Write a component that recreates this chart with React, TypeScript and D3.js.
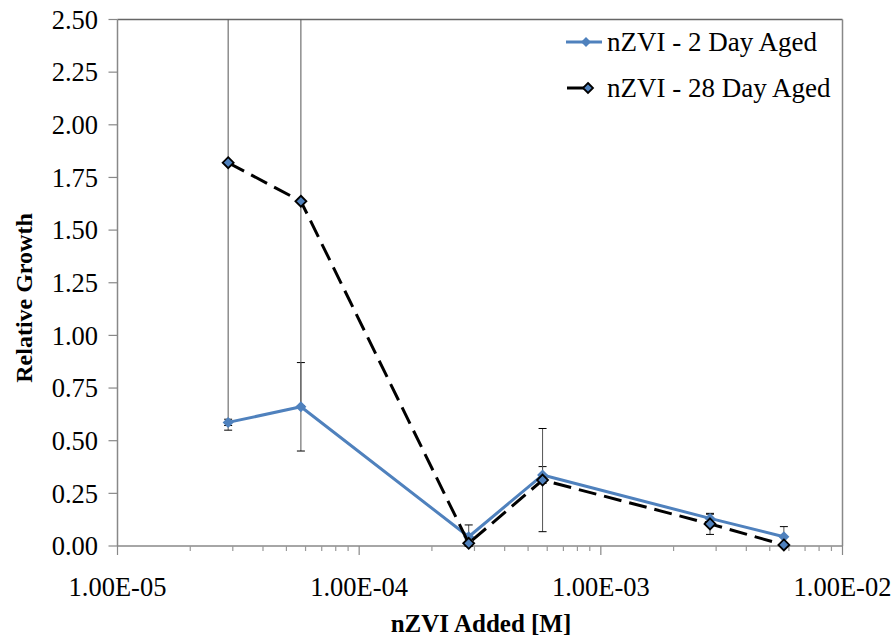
import React from "react";
import * as d3 from "d3";

const concentrations = [2.87e-5, 5.74e-5, 2.84e-4, 5.74e-4, 2.83e-3, 5.72e-3];
const aged2 = [0.587, 0.661, 0.044, 0.337, 0.131, 0.044];
const aged2Err = [0.015, 0.21, 0.056, 0.04, 0.02, 0.048];
const aged28 = [1.82, 1.637, 0.013, 0.313, 0.105, 0.005];
const aged28Err = [1.27, 0.97, 0.02, 0.245, 0.05, 0.005];
const yTicks = [0, 0.25, 0.5, 0.75, 1.0, 1.25, 1.5, 1.75, 2.0, 2.25, 2.5];
const xMajor = [1e-5, 1e-4, 1e-3, 1e-2];
const seriesNames = ["nZVI - 2 Day Aged", "nZVI - 28 Day Aged"];

const W = 896, H = 640;
const L = 117.5, R = 842.5, T = 19.5, B = 546;
const FONT = "'Liberation Serif', 'Times New Roman', 'DejaVu Serif', serif";
const BLUE = "#4F81BD";

function fmtExp(v: number) {
  const e = Math.round(Math.log10(v));
  const sign = e < 0 ? "-" : "+";
  const a = Math.abs(e);
  return `1.00E${sign}${a < 10 ? "0" + a : a}`;
}

function diamond(cx: number, cy: number, r: number) {
  return `M${cx},${cy - r}L${cx + r},${cy}L${cx},${cy + r}L${cx - r},${cy}Z`;
}

const txt: React.CSSProperties = { fontFamily: FONT };

export default function App() {
  const x = d3.scaleLog().domain([1e-5, 1e-2]).range([L, R]);
  const y = d3.scaleLinear().domain([0, 2.5]).range([B, T]);
  const minor: number[] = [];
  for (let e = -5; e < -2; e++) {
    for (let m = 2; m <= 9; m++) minor.push(m * Math.pow(10, e));
  }
  const line = d3
    .line<number>()
    .x((_, i) => x(concentrations[i]))
    .y((d) => y(d));

  const errBar = (vals: number[], errs: number[], key: string) =>
    vals.map((v, i) => {
      const cx = x(concentrations[i]);
      const hi = v + errs[i];
      const lo = Math.max(v - errs[i], 0);
      const yHi = Math.max(y(hi), T);
      const yLo = y(lo);
      return (
        <g key={key + i}>
          <line x1={cx} x2={cx} y1={yHi} y2={yLo} stroke="#555" strokeWidth={1} />
          {hi <= 2.5 && <line x1={cx - 4} x2={cx + 4} y1={y(hi)} y2={y(hi)} stroke="#000" strokeWidth={1} />}
          <line x1={cx - 4} x2={cx + 4} y1={yLo} y2={yLo} stroke="#000" strokeWidth={1} />
        </g>
      );
    });

  return (
    <svg
      width={W}
      height={H}
      style={{ position: "absolute", left: 0, top: 0, background: "#fff", fontFamily: FONT }}
    >
      <rect x={0} y={0} width={W} height={H} fill="#fff" />
      <line x1={L} x2={R} y1={T} y2={T} stroke="#666" strokeWidth={1.5} />
      <line x1={R} x2={R} y1={T} y2={B} stroke="#888" strokeWidth={1.5} />
      <line x1={L} x2={L} y1={T} y2={B} stroke="#888" strokeWidth={1.5} />
      {yTicks.map((t) => (
        <g key={"yt" + t}>
          <line x1={L - 9} x2={L} y1={y(t)} y2={y(t)} stroke="#888" strokeWidth={1.2} />
          <text style={txt} x={98} y={y(t)} dy="0.35em" textAnchor="end" fontSize={26.5} fill="#000">
            {t.toFixed(2)}
          </text>
        </g>
      ))}
      <line x1={L} x2={R} y1={B} y2={B} stroke="#888" strokeWidth={1.5} />
      {minor.map((m) => (
        <line key={"mn" + m} x1={x(m)} x2={x(m)} y1={B} y2={B + 5} stroke="#999" strokeWidth={1.2} />
      ))}
      {xMajor.map((m) => (
        <g key={"mj" + m}>
          <line x1={x(m)} x2={x(m)} y1={B} y2={B + 9} stroke="#888" strokeWidth={1.2} />
          <text style={txt} x={x(m)} y={596} textAnchor="middle" fontSize={26.5} fill="#000">
            {fmtExp(m)}
          </text>
        </g>
      ))}
      {errBar(aged2, aged2Err, "e2")}
      {errBar(aged28, aged28Err, "e28")}
      <path d={line(aged2) || ""} fill="none" stroke={BLUE} strokeWidth={3} strokeLinejoin="round" />
      {aged2.map((v, i) => (
        <path key={"m2" + i} d={diamond(x(concentrations[i]), y(v), 5.5)} fill={BLUE} />
      ))}
      <path d={line(aged28) || ""} fill="none" stroke="#000" strokeWidth={3} strokeDasharray="18 8" />
      {aged28.map((v, i) => (
        <path key={"m28" + i} d={diamond(x(concentrations[i]), y(v), 5.5)} fill={BLUE} stroke="#000" strokeWidth={1.8} />
      ))}
      <line x1={566} x2={602} y1={42} y2={42} stroke={BLUE} strokeWidth={3} />
      <path d={diamond(586, 42, 5)} fill={BLUE} />
      <text style={txt} x={607} y={42} dy="0.35em" fontSize={27} fill="#000">{seriesNames[0]}</text>
      <line x1={567} x2={585} y1={88} y2={88} stroke="#000" strokeWidth={3} />
      <path d={diamond(588, 88, 5)} fill={BLUE} stroke="#000" strokeWidth={1.8} />
      <text style={txt} x={607} y={88} dy="0.35em" fontSize={27} fill="#000">{seriesNames[1]}</text>
      <text
        style={txt}
        transform={`translate(24,298) rotate(-90)`}
        textAnchor="middle"
        dy="0.35em"
        fontSize={24}
        fontWeight="bold"
        fill="#000"
      >
        Relative Growth
      </text>
      <text style={txt} x={481} y={632} textAnchor="middle" fontSize={25} fontWeight="bold" fill="#000">
        nZVI Added [M]
      </text>
    </svg>
  );
}
